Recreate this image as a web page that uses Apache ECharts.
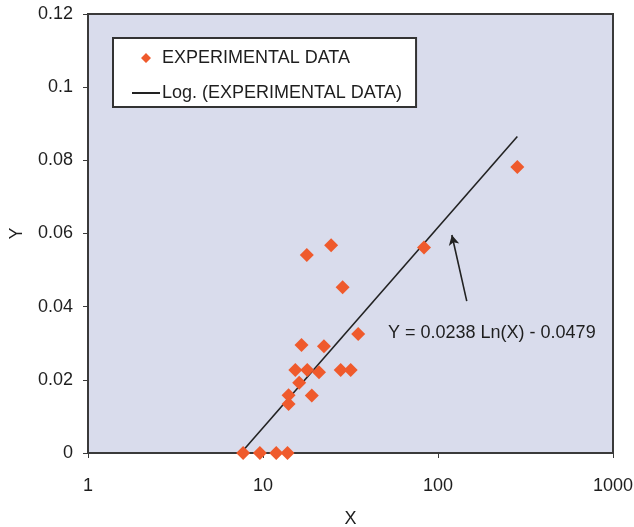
<!DOCTYPE html>
<html>
<head>
<meta charset="utf-8">
<title>Log fit</title>
<script src="https://cdn.jsdelivr.net/npm/echarts@6/dist/echarts.min.js"></script>
<style>
  html, body, #main {width:100%;height:100%;margin:0;overflow:hidden;background:#fff;}
</style>
</head>
<body>
<div id="main"></div>
<script>
// experimental points
var expX = [7.7, 9.6, 11.9, 13.8, 14.0, 14.0, 19.0, 16.1, 15.3, 17.9, 20.9, 27.8, 31.7, 16.6, 22.3, 35.0, 28.5, 17.8, 24.5, 83.2, 284];
var expY = [0, 0, 0, 0, 0.0134, 0.0158, 0.0157, 0.0192, 0.0227, 0.0227, 0.0221, 0.0227, 0.0227, 0.0295, 0.0292, 0.0325, 0.0453, 0.0541, 0.0568, 0.0562, 0.0782];
// trendline ends: Y = 0.0238 Ln(X) - 0.0479
var trendX = [7.7, 284];
var trendY = [0.0007, 0.0865];
// arrow pointing at the trendline (tail -> head)
var arrowX = [146, 120];
var arrowY = [0.0415, 0.0596];
var xTicks = [1, 10, 100, 1000];
var yTicks = [0, 0.02, 0.04, 0.06, 0.08, 0.1, 0.12];

var font = 'Liberation Sans, Arial, sans-serif';
var ink = '#1e1e1e';
var chart = echarts.init(document.getElementById('main'));

var points = expX.map(function (x, i) { return [x, expY[i]]; });
var trend = trendX.map(function (x, i) { return [x, trendY[i]]; });

// legend icons: 28x14 box, tiny corner dots keep the box size
var box = 'M0,0h0.01v0.01h-0.01z M27.99,13.99h0.01v0.01h-0.01z ';
var diamondIcon = 'path://' + box + 'M14,2L19,7L14,12L9,7Z';
var lineIcon = 'path://' + box + 'M0,6H28V8H0Z';

chart.setOption({
  animation: false,
  grid: {
    left: 88, top: 14, width: 525, height: 439,
    outerBoundsMode: 'none',
    containLabel: false,
    show: true,
    backgroundColor: '#d9dcec',
    borderColor: '#3a3a3a',
    borderWidth: 2
  },
  legend: {
    orient: 'vertical',
    left: 113, top: 38,
    backgroundColor: '#fff',
    borderColor: '#333',
    borderWidth: 2,
    borderRadius: 0,
    padding: [11, 14, 5, 19],
    itemWidth: 28, itemHeight: 14, itemGap: 17,
    textStyle: {fontFamily: font, fontSize: 18, color: ink, padding: [0, 0, 0, -3]},
    data: [
      {name: 'EXPERIMENTAL DATA', icon: diamondIcon, itemStyle: {color: '#ef5a2c'}},
      {name: 'Log. (EXPERIMENTAL DATA)', icon: lineIcon, itemStyle: {color: '#222'}, lineStyle: {width: 0}}
    ]
  },
  xAxis: {
    type: 'log', logBase: 10, min: 1, max: 1000,
    name: 'X', nameLocation: 'middle', nameGap: 57,
    nameTextStyle: {fontFamily: font, fontSize: 18, color: ink},
    axisLine: {show: true, lineStyle: {color: '#3a3a3a', width: 2}},
    axisTick: {show: true, length: 5, lineStyle: {color: '#3a3a3a'}},
    minorTick: {show: false},
    splitLine: {show: false},
    axisLabel: {
      fontFamily: font, fontSize: 18, color: ink, margin: 24,
      formatter: function (v) {
        var t = xTicks.filter(function (k) { return Math.abs(k - v) / k < 1e-6; });
        return t.length ? String(t[0]) : '';
      }
    }
  },
  yAxis: {
    type: 'value', min: 0, max: 0.12, interval: 0.02,
    name: 'Y', nameLocation: 'middle', nameGap: 62, nameRotate: 90,
    nameTextStyle: {fontFamily: font, fontSize: 18, color: ink},
    axisLine: {show: true, lineStyle: {color: '#3a3a3a', width: 2}},
    axisTick: {show: true, length: 5, lineStyle: {color: '#3a3a3a'}},
    splitLine: {show: false},
    axisLabel: {
      fontFamily: font, fontSize: 18, color: ink, margin: 15,
      formatter: function (v) {
        var t = yTicks.filter(function (k) { return Math.abs(k - v) < 1e-9; });
        return t.length ? String(t[0]) : '';
      }
    }
  },
  graphic: [{
    type: 'text', left: 388, top: 324,
    style: {text: 'Y = 0.0238 Ln(X) - 0.0479', font: '18px ' + font, fill: ink}
  }],
  series: [
    {
      name: 'EXPERIMENTAL DATA',
      type: 'scatter',
      symbol: 'diamond',
      symbolSize: 14,
      itemStyle: {color: '#ef5a2c', opacity: 1},
      data: points,
      z: 3
    },
    {
      name: 'Log. (EXPERIMENTAL DATA)',
      type: 'line',
      symbol: 'none',
      lineStyle: {color: '#222', width: 1.6},
      itemStyle: {color: '#222'},
      data: trend,
      z: 2,
      markLine: {
        silent: true,
        symbol: ['none', 'arrow'],
        symbolSize: [8, 10],
        label: {show: false},
        lineStyle: {color: '#222', width: 1.6, type: 'solid'},
        data: [[
          {coord: [arrowX[0], arrowY[0]]},
          {coord: [arrowX[1], arrowY[1]]}
        ]]
      }
    }
  ]
});
</script>
</body>
</html>
